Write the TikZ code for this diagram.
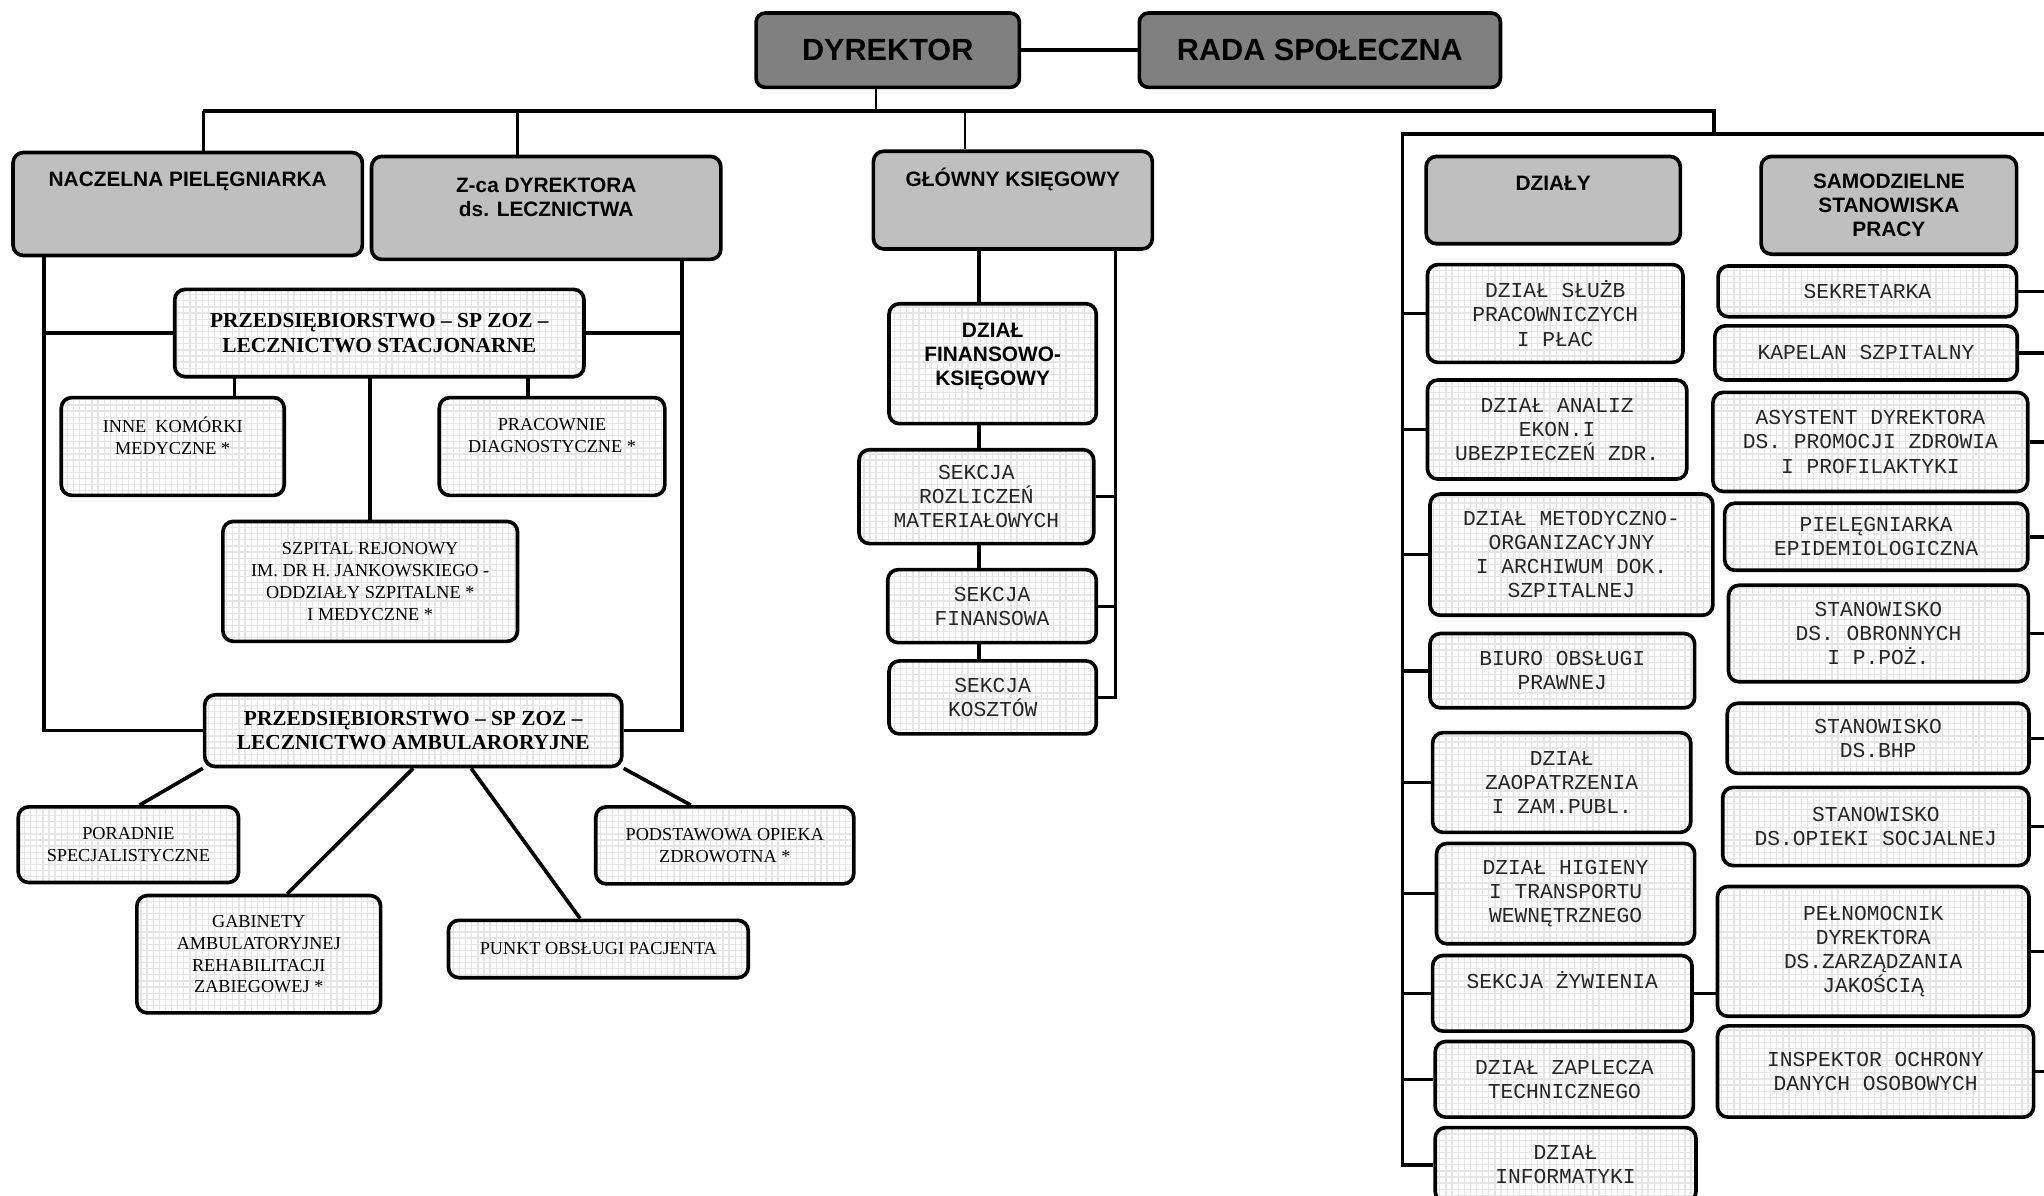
\documentclass[tikz,border=0pt]{standalone}
\usepackage{fontspec}
\setmainfont{Liberation Serif}
\setsansfont{Liberation Sans}
\setmonofont{Liberation Mono}
\usetikzlibrary{calc, patterns.meta}

\begin{document}
\begin{tikzpicture}[x=1pt, y=-1pt]
        \tikzstyle{topbox} = [rectangle, rounded corners=7pt, draw=black, line width=2.8pt, fill=gray, inner sep=0pt, font=\sffamily\bfseries\fontsize{23.5}{27}\selectfont]
        \tikzstyle{headbox} = [rectangle, rounded corners=8pt, draw=black, line width=2.8pt, fill=gray!50, inner sep=0pt, align=center, font=\sffamily\bfseries\fontsize{16}{18.7}\selectfont]
        \tikzstyle{gridbox} = [rectangle, rounded corners=8pt, draw=black, line width=2.8pt, inner sep=0pt, align=center, preaction={fill=white}, pattern={Hatch[angle=0, distance=4.7pt, line width=1pt]}, pattern color=gray!20]
        \tikzstyle{txtsans} = [align=center, font=\sffamily\bfseries\fontsize{16}{18.7}\selectfont]
        \tikzstyle{txtserifb} = [font=\rmfamily\bfseries\fontsize{16.4}{19}\selectfont]
        \tikzstyle{txtserif} = [align=center, font=\rmfamily\fontsize{14}{16.7}\selectfont]
        \tikzstyle{txtmono} = [align=center, text=black!85, font=\ttfamily\fontsize{16.3}{18.5}\selectfont]
        \tikzstyle{conn} = [line width=2.8pt]
        \tikzstyle{midconn} = [line width=2.2pt]
        \tikzstyle{thinconn} = [line width=1.3pt]

        \useasboundingbox (0,0) rectangle (1568,917);

        % top
        \node[topbox, minimum width=202pt, minimum height=57pt] (dyr) at (681,38.5) {DYREKTOR};
        \node[topbox, minimum width=277pt, minimum height=57pt] (rada) at (1012.5,38.5) {RADA SPOŁECZNA};

        % heads
        \node[headbox, minimum width=268pt, minimum height=79pt] (nacz) at (144,156.5) {};
        \node[txtsans] (nacz-t) at (144,139) {NACZELNA PIELĘGNIARKA};
        \node[headbox, minimum width=268pt, minimum height=79pt] (zca) at (419,159.5) {};
        \node[txtsans] (zca-t) at (419,151.5) {Z-ca DYREKTORA\\ds. LECZNICTWA};
        \node[headbox, minimum width=214pt, minimum height=75pt] (glow) at (777,153.5) {};
        \node[txtsans] (glow-t) at (777,138) {GŁÓWNY KSIĘGOWY};
        \node[headbox, minimum width=195pt, minimum height=67pt] (dzialy) at (1191.5,153.5) {};
        \node[txtsans] (dzialy-t) at (1191.5,141) {DZIAŁY};
        \node[headbox, minimum width=196pt, minimum height=75pt] (samo) at (1449,157.5) {SAMODZIELNE\\STANOWISKA\\PRACY};

        % lecznictwo
        \node[gridbox, txtserifb, minimum width=314pt, minimum height=67pt] (stac) at (291,255.5) {PRZEDSIĘBIORSTWO – SP ZOZ –\\LECZNICTWO STACJONARNE};
        \node[gridbox, minimum width=171pt, minimum height=75pt] (inne) at (132.5,342.5) {};
        \node[txtserif] (inne-t) at (132.5,334) {INNE\ \ KOMÓRKI\\MEDYCZNE *};
        \node[gridbox, minimum width=173pt, minimum height=75pt] (prac) at (423.5,342.5) {};
        \node[txtserif] (prac-t) at (423.5,334) {PRACOWNIE\\DIAGNOSTYCZNE *};
        \node[gridbox, txtserif, minimum width=226pt, minimum height=92pt] (szp) at (284,446) {SZPITAL REJONOWY\\IM. DR H. JANKOWSKIEGO -\\ODDZIAŁY SZPITALNE *\\I MEDYCZNE *};
        \node[gridbox, txtserifb, minimum width=320pt, minimum height=55pt] (amb) at (317,560.5) {PRZEDSIĘBIORSTWO – SP ZOZ –\\LECZNICTWO AMBULARORYJNE};
        \node[gridbox, txtserif, minimum width=169pt, minimum height=58pt] (por) at (98.5,648) {PORADNIE\\SPECJALISTYCZNE};
        \node[gridbox, txtserif, minimum width=187pt, minimum height=90pt] (gab) at (198.5,732) {GABINETY\\AMBULATORYJNEJ\\REHABILITACJI\\ZABIEGOWEJ *};
        \node[gridbox, txtserif, minimum width=230pt, minimum height=44pt] (pkt) at (459,728) {PUNKT OBSŁUGI PACJENTA};
        \node[gridbox, txtserif, minimum width=198pt, minimum height=59pt] (pod) at (556,648.5) {PODSTAWOWA OPIEKA\\ZDROWOTNA *};

        % finanse
        \node[gridbox, minimum width=159pt, minimum height=92pt] (fin) at (761.5,279) {};
        \node[txtsans] (fin-t) at (761.5,273.5) {DZIAŁ\\FINANSOWO-\\KSIĘGOWY};
        \node[gridbox, txtmono, minimum width=180pt, minimum height=72pt] (roz) at (749,381) {SEKCJA\\ROZLICZEŃ\\MATERIAŁOWYCH};
        \node[gridbox, txtmono, minimum width=160pt, minimum height=56pt] (sfin) at (761,465) {SEKCJA\\FINANSOWA};
        \node[gridbox, txtmono, minimum width=159pt, minimum height=56pt] (kosz) at (761.5,535) {SEKCJA\\KOSZTÓW};

        % dzialy
        \node[gridbox, txtmono, minimum width=196pt, minimum height=75pt] (d1) at (1193,240.5) {DZIAŁ SŁUŻB\\PRACOWNICZYCH\\I PŁAC};
        \node[gridbox, txtmono, minimum width=199pt, minimum height=76pt] (d2) at (1194.5,329.5) {DZIAŁ ANALIZ\\EKON.I\\UBEZPIECZEŃ ZDR.};
        \node[gridbox, txtmono, minimum width=217pt, minimum height=93pt] (d3) at (1205.5,425.5) {DZIAŁ METODYCZNO-\\ORGANIZACYJNY\\I ARCHIWUM DOK.\\SZPITALNEJ};
        \node[gridbox, txtmono, minimum width=203pt, minimum height=57pt] (d4) at (1198.5,514.5) {BIURO OBSŁUGI\\PRAWNEJ};
        \node[gridbox, txtmono, minimum width=198pt, minimum height=76.5pt] (d5) at (1198,600.25) {DZIAŁ\\ZAOPATRZENIA\\I ZAM.PUBL.};
        \node[gridbox, txtmono, minimum width=198pt, minimum height=77pt] (d6) at (1201,685.5) {DZIAŁ HIGIENY\\I TRANSPORTU\\WEWNĘTRZNEGO};
        \node[gridbox, minimum width=199pt, minimum height=58pt] (d7) at (1198.5,762) {};
        \node[txtmono] (d7-t) at (1198.5,752) {SEKCJA ŻYWIENIA};
        \node[gridbox, txtmono, minimum width=198pt, minimum height=58pt] (d8) at (1200,828) {DZIAŁ ZAPLECZA\\TECHNICZNEGO};
        \node[gridbox, txtmono, minimum width=200pt, minimum height=57pt] (d9) at (1201,893.5) {DZIAŁ\\INFORMATYKI};

        % samodzielne stanowiska
        \node[gridbox, txtmono, minimum width=229pt, minimum height=39pt] (s1) at (1432.5,223.5) {SEKRETARKA};
        \node[gridbox, txtmono, minimum width=232pt, minimum height=41.5pt] (s2) at (1431.5,270.75) {KAPELAN SZPITALNY};
        \node[gridbox, txtmono, minimum width=241.5pt, minimum height=76pt] (s3) at (1434.75,339) {ASYSTENT DYREKTORA\\DS. PROMOCJI ZDROWIA\\I PROFILAKTYKI};
        \node[gridbox, txtmono, minimum width=232.5pt, minimum height=51.5pt] (s4) at (1439.25,411.75) {PIELĘGNIARKA\\EPIDEMIOLOGICZNA};
        \node[gridbox, txtmono, minimum width=230pt, minimum height=74pt] (s5) at (1441,486) {STANOWISKO\\DS. OBRONNYCH\\I P.POŻ.};
        \node[gridbox, txtmono, minimum width=231.5pt, minimum height=53.8pt] (s6) at (1440.75,566.4) {STANOWISKO\\DS.BHP};
        \node[gridbox, txtmono, minimum width=235pt, minimum height=60pt] (s7) at (1439,634) {STANOWISKO\\DS.OPIEKI SOCJALNEJ};
        \node[gridbox, txtmono, minimum width=239pt, minimum height=99.6pt] (s8) at (1437,729.8) {PEŁNOMOCNIK\\DYREKTORA\\DS.ZARZĄDZANIA\\JAKOŚCIĄ};
        \node[gridbox, txtmono, minimum width=242.5pt, minimum height=70pt] (s9) at (1438.75,822) {INSPEKTOR OCHRONY\\DANYCH OSOBOWYCH};

        % bus lines
        \coordinate (busL) at (156,85);
        \coordinate (busR) at (1315,85);
        \coordinate (dz) at (1076,103);
        \coordinate (sx) at (1568,103);
        \coordinate (dyrx) at (672,0);
        \coordinate (zcx) at (397,0);
        \coordinate (glx) at (740,0);
        \coordinate (lx) at (34,0);
        \coordinate (rx) at (523,0);
        \coordinate (inx) at (180,0);
        \coordinate (prx) at (405,0);
        \coordinate (fx) at (751,0);
        \coordinate (gx) at (856,0);

        \draw[conn] (dyr.east) -- (rada.west);
        \draw[thinconn] (dyr.south -| dyrx) -- (busL -| dyrx);
        \draw[conn] (busL) -- (busR) -- (busR |- dz);
        \draw[conn] (busL) -- (nacz.north -| busL);
        \draw[conn] (busL -| zcx) -- (zca.north -| zcx);
        \draw[thinconn] (busL -| glx) -- (glow.north -| glx);

        % lecznictwo connectors
        \draw[conn] (nacz.south -| lx) |- (amb.west);
        \draw[conn] (zca.south -| rx) |- (amb.east);
        \draw[conn] (stac.west) -- (stac.west -| lx);
        \draw[conn] (stac.east) -- (stac.east -| rx);
        \draw[conn] (stac.south -| inx) -- (inne.north -| inx);
        \draw[conn] (stac.south -| prx) -- (prac.north -| prx);
        \draw[conn] (stac.south -| szp.north) -- (szp.north);
        \draw[conn] (amb.south west) -- ($(por.north west)!0.55!(por.north east)$);
        \draw[conn] (amb.south) -- ($(gab.north west)!0.615!(gab.north east)$);
        \draw[conn] ($(amb.south west)!0.6375!(amb.south east)$) -- ($(pkt.north west)!0.44!(pkt.north east)$);
        \draw[conn] (amb.south east) -- ($(pod.north west)!0.37!(pod.north east)$);

        % finanse connectors
        \foreach \a/\b in {glow/fin, fin/roz, roz/sfin, sfin/kosz}
            \draw[conn] (\a.south -| fx) -- (\b.north -| fx);
        \draw[midconn] (glow.south -| gx) |- (kosz.east);
        \foreach \b in {roz, sfin}
            \draw[midconn] (\b.east) -- (\b.east -| gx);

        % dzialy and stanowiska
        \draw[conn] (sx) -- (dz) |- (d9.west);
        \foreach \i in {1,...,8}
            \draw[conn] (d\i.west) -- (d\i.west -| dz);
        \foreach \i in {1,...,9}
            \draw[conn] (s\i.east) -- (s\i.east -| sx);
        \draw[conn] (d7.east) -- (d7.east -| s8.west);

    \end{tikzpicture}
\end{document}
